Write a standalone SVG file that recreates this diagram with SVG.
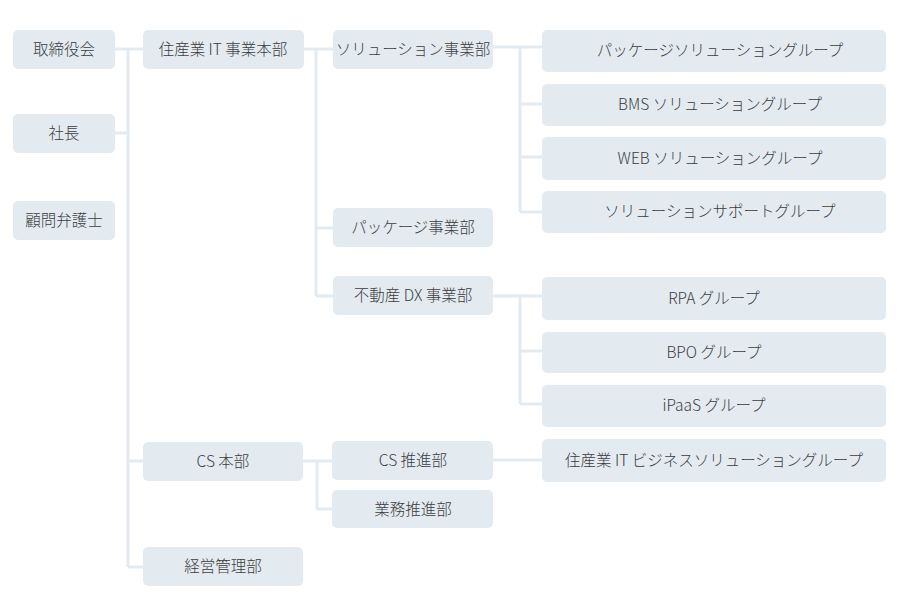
<svg xmlns="http://www.w3.org/2000/svg" width="900" height="606" viewBox="0 0 900 606">
<style>
.box{fill:#e3ebf1}
.t{font-family:"Noto Sans CJK JP","Noto Sans",sans-serif;font-size:15.5px;font-weight:300;fill:#3c3c3c;text-anchor:middle}
.c{stroke:#e3ebf1;stroke-width:3;fill:none}
</style>
<rect width="900" height="606" fill="#ffffff"/>
<g id="connectors">
<path class="c" d="M115 49H143 M115 133H128 M128 49V567 M128 461H143 M128 567H143"/>
<path class="c" d="M304 49H333 M316 49V296 M316 228H333 M316 296H333"/>
<path class="c" d="M493 47H542 M520 47V212 M520 104H542 M520 157H542 M520 212H542"/>
<path class="c" d="M493 296H542 M520 296V404 M520 351H542 M520 404H542"/>
<path class="c" d="M303 461H332 M317 461V509 M317 509H332 M493 460H542"/>
</g>
<g id="n-torishimariyaku"><rect class="box" x="13" y="30" width="102" height="39" rx="5"/><text class="t" x="64" y="55">取締役会</text></g>
<g id="n-shacho"><rect class="box" x="13" y="114" width="102" height="39" rx="5"/><text class="t" x="64" y="139">社長</text></g>
<g id="n-komon"><rect class="box" x="13" y="201" width="102" height="39" rx="5"/><text class="t" x="64" y="226">顧問弁護士</text></g>
<g id="n-it-honbu"><rect class="box" x="143" y="30" width="161" height="39" rx="5"/><text class="t" x="223" y="55">住産業 IT 事業本部</text></g>
<g id="n-cs-honbu"><rect class="box" x="143" y="442" width="160" height="39" rx="5"/><text class="t" x="223" y="467">CS 本部</text></g>
<g id="n-keiei"><rect class="box" x="143" y="547" width="160" height="39" rx="5"/><text class="t" x="223" y="572">経営管理部</text></g>
<g id="n-solution"><rect class="box" x="333" y="30" width="160" height="39" rx="5"/><text class="t" x="413" y="55">ソリューション事業部</text></g>
<g id="n-package"><rect class="box" x="333" y="208" width="160" height="39" rx="5"/><text class="t" x="413" y="233">パッケージ事業部</text></g>
<g id="n-dx"><rect class="box" x="333" y="276" width="160" height="39" rx="5"/><text class="t" x="413" y="301">不動産 DX 事業部</text></g>
<g id="n-cs-suishin"><rect class="box" x="332" y="441" width="161" height="39" rx="5"/><text class="t" x="413" y="466">CS 推進部</text></g>
<g id="n-gyomu"><rect class="box" x="332" y="490" width="161" height="38" rx="5"/><text class="t" x="413" y="515">業務推進部</text></g>
<g id="g-package-sol"><rect class="box" x="542" y="30" width="344" height="42" rx="5"/><text class="t" x="720" y="56">パッケージソリューショングループ</text></g>
<g id="g-bms"><rect class="box" x="542" y="84" width="344" height="42" rx="5"/><text class="t" x="720" y="110">BMS ソリューショングループ</text></g>
<g id="g-web"><rect class="box" x="542" y="137" width="344" height="43" rx="5"/><text class="t" x="720" y="164">WEB ソリューショングループ</text></g>
<g id="g-support"><rect class="box" x="542" y="191" width="344" height="42" rx="5"/><text class="t" x="720" y="217">ソリューションサポートグループ</text></g>
<g id="g-rpa"><rect class="box" x="542" y="277" width="344" height="43" rx="5"/><text class="t" x="714" y="304">RPA グループ</text></g>
<g id="g-bpo"><rect class="box" x="542" y="332" width="344" height="41" rx="5"/><text class="t" x="714" y="358">BPO グループ</text></g>
<g id="g-ipaas"><rect class="box" x="542" y="385" width="344" height="42" rx="5"/><text class="t" x="714" y="411">iPaaS グループ</text></g>
<g id="g-bizsol"><rect class="box" x="542" y="439" width="344" height="43" rx="5"/><text class="t" x="714" y="466">住産業 IT ビジネスソリューショングループ</text></g>
</svg>
